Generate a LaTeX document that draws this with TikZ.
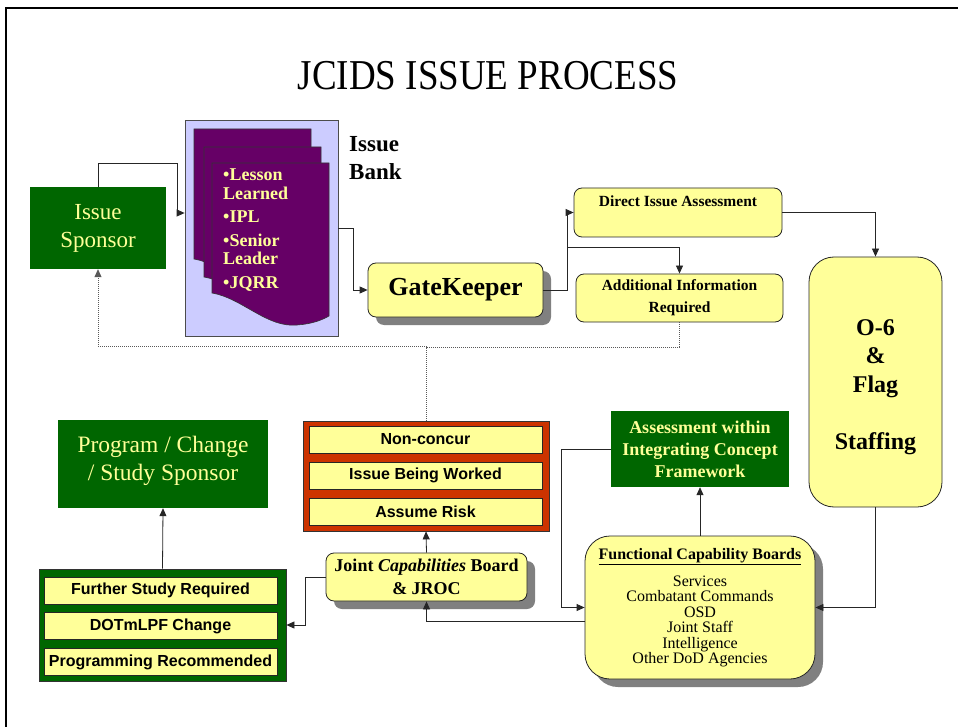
\documentclass[tikz,border=0pt]{standalone}
\usepackage{fontspec}
\usepackage{graphicx}
\setmainfont{Liberation Serif}
\newfontfamily\arialfont{Liberation Sans}
\usetikzlibrary{arrows.meta, positioning, shadows}

\definecolor{boxgreen}{HTML}{006600}
\definecolor{boxyellow}{HTML}{FFFF99}
\definecolor{txtyellow}{HTML}{FFFF99}
\definecolor{docpurple}{HTML}{660066}
\definecolor{banklilac}{HTML}{CCCCFF}
\definecolor{riskred}{HTML}{CC3300}
\definecolor{shadowgray}{HTML}{808080}

\newcommand{\fsz}[2]{\fontsize{#1}{#2}\selectfont}

\begin{document}
\begin{tikzpicture}[x=1pt, y=-1pt,
  greenbox/.style={fill=boxgreen, text=txtyellow, inner sep=0pt, align=center},
  yellowbox/.style={fill=boxyellow, draw=black!85, line width=0.8pt, rounded corners=8pt, inner sep=0pt, align=center},
  bar/.style={fill=boxyellow, draw=black!85, line width=0.8pt, minimum width=233pt, minimum height=27pt, inner sep=0pt, font=\arialfont\bfseries\fsz{16}{18}},
  boxshadow/.style={general shadow={fill=shadowgray, shadow xshift=8pt, shadow yshift=-8pt}},
  arr/.style={draw=black!85, line width=0.8pt, -{Triangle[length=8pt,width=7pt]}},
  dots/.style={draw=black!65, line width=0.8pt, dash pattern=on 1pt off 1pt}
]
\useasboundingbox (0,0) rectangle (958,727);

% Frame and title
\draw[line width=2pt] (6,727) -- (6,8) -- (958,8);
\node[anchor=base, font=\fsz{37}{40}, inner sep=0pt] (title) at (488,90) {\scalebox{1}[1.15]{JCIDS ISSUE PROCESS}};

% Issue sponsor
\node[greenbox, minimum width=136pt, minimum height=82pt, font=\fsz{23}{28}] (sponsor) at (98,228) {Issue\\Sponsor};

% Issue bank with stacked documents
\node[fill=banklilac, draw=black!70, line width=0.8pt, minimum width=153pt, minimum height=216pt] (bank) at (261.5,228) {};
\foreach \dx/\dy in {194/129, 204/147, 212/163} {
  \filldraw[fill=docpurple, draw=black!80, line width=0.6pt, shift={(\dx,\dy)}]
    (0,0) -- (117,0) -- (117,153) .. controls (110,157) and (100,161) .. (85,162)
    .. controls (55,165) and (30,135) .. (0,130) -- cycle;
}
\node[anchor=north west, align=left, inner sep=0pt, text=txtyellow, font=\bfseries\fsz{18}{18.5}] (banklist) at (223,169) {•Lesson\\Learned\\[5pt]•IPL\\[5pt]•Senior\\Leader\\[5pt]•JQRR};
\node[anchor=north west, align=left, inner sep=0pt, font=\bfseries\fsz{23}{28}] (banklabel) at (349,136) {Issue\\Bank};

% GateKeeper and its outcomes
\node[yellowbox, boxshadow, minimum width=175pt, minimum height=54pt, font=\bfseries\fsz{26}{30}] (gate) at (455.5,290) {GateKeeper};
\node[yellowbox, minimum width=208pt, minimum height=49pt, font=\bfseries\fsz{15.5}{23}] (direct) at (678,212.5) {Direct Issue Assessment\\\mbox{}};
\node[yellowbox, minimum width=207pt, minimum height=48pt, font=\bfseries\fsz{15.5}{22}] (addl) at (679.5,298) {Additional Information\\Required};
\node[yellowbox, rounded corners=25pt, minimum width=133pt, minimum height=250pt] (staff) at (875.5,382) {};
\node[align=center, inner sep=0pt, font=\bfseries\fsz{24}{28.5}] (stafftext) at ([yshift=-5pt]staff.center) {O-6\\\&\\Flag\\[28.5pt]Staffing};

% Non-concur / risk box
\node[fill=riskred, draw=black!80, line width=0.8pt, minimum width=246pt, minimum height=110pt] (risk) at (426,476) {};
\node[bar] (nonconcur) at (425.5,439.5) {Non-concur};
\node[bar, below=8.5pt of nonconcur] (worked) {Issue Being Worked};
\node[bar, below=8.5pt of worked] (assume) {Assume Risk};

% Program sponsor and decisions
\node[greenbox, minimum width=210pt, minimum height=88pt] (progsponsor) at (163,464) {};
\node[greenbox, font=\fsz{23.5}{28}] (progtext) at ([yshift=3pt]progsponsor.center) {Program / Change\\/ Study Sponsor};
\node[fill=boxgreen, draw=black!80, line width=0.8pt, minimum width=247pt, minimum height=112pt] (further) at (162.5,625) {};
\node[bar] (study) at (160.5,590.5) {Further Study Required};
\node[bar, below=8pt of study] (dotmlpf) {DOTmLPF Change};
\node[bar, below=8pt of dotmlpf] (programming) {Programming Recommended};

% Assessment and boards
\node[greenbox, minimum width=178pt, minimum height=76pt, font=\bfseries\fsz{18}{22}] (icf) at (700,449) {Assessment within\\Integrating Concept\\Framework};
\node[yellowbox, boxshadow, rounded corners=25pt, minimum width=230pt, minimum height=143pt, font=\fsz{16}{15.5}] (fcb) at (700,607.5) {{\bfseries\underline{Functional Capability Boards}}\\[10pt]Services\\Combatant Commands\\OSD\\Joint Staff\\Intelligence\\Other DoD Agencies};
\node[yellowbox, boxshadow, minimum width=201pt, minimum height=48pt, font=\bfseries\fsz{18}{23}] (jcb) at (426.5,577) {Joint \textit{Capabilities} Board\\\& JROC};

% Connectors
\coordinate (split) at (567,247);
\draw[arr] (sponsor.north) -- (98,163) -- (177,163) |- ([yshift=15pt]bank.west);
\draw[arr] (bank.east) -- (353,228) |- (gate.west);
\draw[arr] (gate.east) -- (567,290) |- (direct.west);
\draw[arr] (split) -| (addl.north);
\draw[arr] (direct.east) -| (staff.north);
\draw[arr] (staff.south) |- (fcb.east);
\draw[arr] (fcb.north) -- (icf.south);
\draw[arr] (icf.west) -- (561,449) |- (fcb.west);
\draw[arr] ([yshift=-14pt]fcb.west) -| (jcb.south);
\draw[arr] (jcb.north) -- (risk.south);
\draw[arr] (jcb.west) -- (305,577) |- (further.east);
\draw[arr] (further.north) -- (progsponsor.south);

% Feedback to the sponsor
\draw[dots] (addl.south) -- (679.5,347) -- (426,347);
\draw[dots, arr, draw=black!65] (risk.north) -- (426,346) -| (sponsor.south);
\end{tikzpicture}
\end{document}
